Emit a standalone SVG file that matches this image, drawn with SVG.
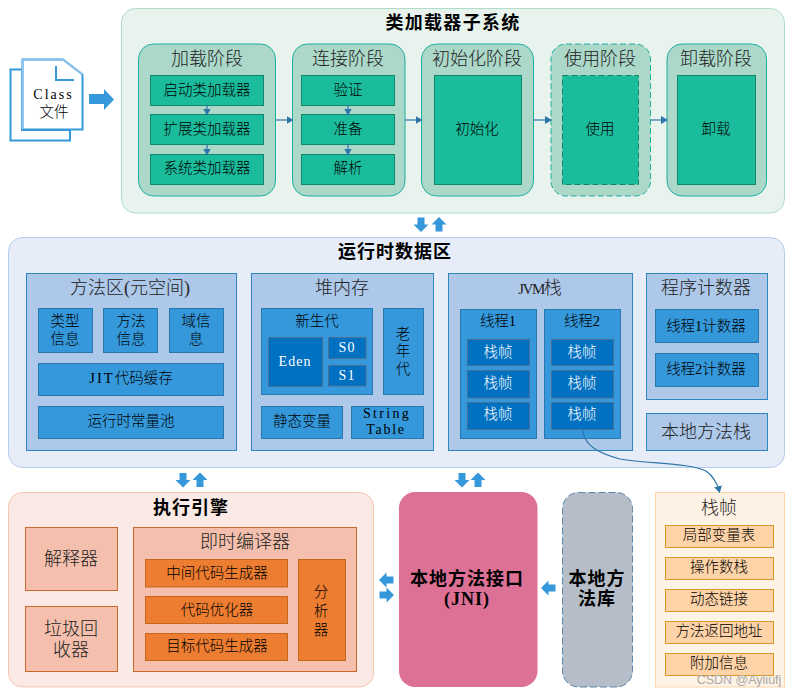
<svg xmlns="http://www.w3.org/2000/svg" width="793" height="696" viewBox="0 0 793 696">
<style>
text{font-family:"Liberation Serif","Noto Sans CJK SC",serif;text-anchor:middle;fill:#000;font-size:14.5px;font-weight:300}
.t{font-size:18px;fill:#222}
.h{font-size:18px;font-weight:700;letter-spacing:1px}
.w{fill:#fff}
.l{font-size:14px}
.gp{fill:#acd8c9;stroke:#1cb0a0;stroke-width:1}
.gi{fill:#1abc9c;stroke:#14846f;stroke-width:1}
.bp{fill:#adc8e9;stroke:#2e86c1;stroke-width:1}
.bi{fill:#3498db;stroke:#2a78ad;stroke-width:1}
.bd{fill:#0070c0;stroke:#4a6f96;stroke-width:1}
.op{fill:#f4bfac;stroke:#c8682c;stroke-width:1}
.oi{fill:#ed7d31;stroke:#c5671f;stroke-width:1}
.yi{fill:#fdd3a7;stroke:#d79b25;stroke-width:1}
.c{fill:none;stroke:#2e75a8;stroke-width:1.2}
.fa{fill:#3498db}
</style>
<defs>
<marker id="a" markerWidth="7" markerHeight="8" refX="6" refY="4" orient="auto" markerUnits="userSpaceOnUse"><path d="M0 0L7 4L0 8z" fill="#2e75a8"/></marker>
<path id="dn" d="M-3.5 -7H3.500V0H7.500L0 7.500L-7.500 0H-3.500z"/>
</defs>
<g id="class-file">
<path d="M10.500 69.500H22V130H70V140.500H10.500z" fill="#fff" stroke="#3498db" stroke-width="2"/>
<path d="M22.500 59.500H63L82.500 74.500V129.500H22.500z" fill="#fff" stroke="#3498db" stroke-width="2"/>
<path d="M22.500 129.500V59.500H63L82.500 74.500" fill="none" stroke="#8cc4ee" stroke-width="2"/>
<path d="M56 66V80H74" fill="none" stroke="#3498db" stroke-width="2"/>
<text class="l" x="53.500" y="99" style="letter-spacing:2px">Class</text>
<text x="54" y="117">文件</text>
</g>
<g id="class-arrow"><path class="fa" d="M89 94H104V89L114 99.500L104 110V104H89z"/></g>
<g id="class-loader">
<rect x="121.500" y="8.500" width="663" height="204.500" rx="14" fill="#e8f3ee" stroke="#b0dcc9"/>
<text class="h" x="453" y="29" style="letter-spacing:1.300px">类加载器子系统</text>
</g>
<g id="load">
<rect class="gp" x="138.500" y="44" width="137" height="152" rx="15"/>
<text class="t" x="207" y="65">加载阶段</text>
<rect class="gi" x="150.500" y="75.500" width="113" height="30"/><text x="207" y="95">启动类加载器</text>
<rect class="gi" x="150.500" y="114.500" width="113" height="30"/><text x="207" y="134">扩展类加载器</text>
<rect class="gi" x="150.500" y="154.500" width="113" height="30"/><text x="207" y="173">系统类加载器</text>
</g>
<g id="link">
<rect class="gp" x="292.500" y="44" width="112.500" height="152" rx="15"/>
<text class="t" x="348" y="65">连接阶段</text>
<rect class="gi" x="301.500" y="75.500" width="93" height="30"/><text x="348" y="95">验证</text>
<rect class="gi" x="301.500" y="114.500" width="93" height="30"/><text x="348" y="134">准备</text>
<rect class="gi" x="301.500" y="154.500" width="93" height="30"/><text x="348" y="173">解析</text>
</g>
<g id="init">
<rect class="gp" x="421.500" y="44" width="112" height="152" rx="15"/>
<text class="t" x="477" y="65">初始化阶段</text>
<rect class="gi" x="434.500" y="75.500" width="87" height="109"/><text x="477" y="134">初始化</text>
</g>
<g id="use">
<rect class="gp" x="551" y="44" width="99.500" height="152" rx="15" stroke-dasharray="6 3"/>
<text class="t" x="600" y="65">使用阶段</text>
<rect class="gi" x="562.500" y="75.500" width="76" height="109" stroke-dasharray="6 3"/><text x="600" y="134">使用</text>
</g>
<g id="unload">
<rect class="gp" x="667" y="44" width="99.500" height="152" rx="15"/>
<text class="t" x="716" y="65">卸载阶段</text>
<rect class="gi" x="677.500" y="75.500" width="78" height="109"/><text x="716" y="134">卸载</text>
</g>
<g id="runtime">
<rect x="8.500" y="237.500" width="776" height="230" rx="14" fill="#e6edf8" stroke="#b4cdea"/>
<text class="h" x="395" y="258">运行时数据区</text>
</g>
<g id="method-area">
<rect class="bp" x="26.500" y="273.500" width="210" height="177"/>
<text class="t" x="130" y="294">方法区(元空间)</text>
<rect class="bi" x="38.500" y="308.500" width="54" height="44"/><text x="65" y="326">类型</text><text x="65" y="344">信息</text>
<rect class="bi" x="103.500" y="308.500" width="54" height="44"/><text x="131" y="326">方法</text><text x="131" y="344">信息</text>
<rect class="bi" x="169.500" y="308.500" width="54" height="44"/><text x="196" y="326">域信</text><text x="196" y="344">息</text>
<rect class="bi" x="38.500" y="363.500" width="185" height="32"/><text x="131" y="383"><tspan style="letter-spacing:2px">JIT</tspan>代码缓存</text>
<rect class="bi" x="38.500" y="406.500" width="185" height="32"/><text x="131" y="426">运行时常量池</text>
</g>
<g id="heap">
<rect class="bp" x="251.500" y="273.500" width="182" height="177"/>
<text class="t" x="342" y="294">堆内存</text>
<rect class="bi" x="261.500" y="308.500" width="111" height="86"/><text x="317" y="326">新生代</text>
<rect class="bd" x="268.500" y="337.500" width="54" height="49"/><text class="w l" x="295" y="366" style="letter-spacing:1px">Eden</text>
<rect class="bd" x="328.500" y="337.500" width="37.500" height="21"/><text class="w l" x="347" y="352" style="letter-spacing:1px">S0</text>
<rect class="bd" x="328.500" y="365.500" width="37.500" height="20.500"/><text class="w l" x="347" y="380" style="letter-spacing:1px">S1</text>
<rect class="bi" x="383.500" y="308.500" width="40" height="86"/><text x="403" y="339">老</text><text x="403" y="356">年</text><text x="403" y="374">代</text>
<rect class="bi" x="261.500" y="406.500" width="81" height="32"/><text x="302" y="426">静态变量</text>
<rect class="bi" x="351.500" y="406.500" width="72" height="32"/><text class="l" x="387" y="418" style="letter-spacing:2.300px">String</text><text class="l" x="386" y="434" style="letter-spacing:1.700px">Table</text>
</g>
<g id="jvm-stack">
<rect class="bp" x="448.500" y="273.500" width="184" height="177"/>
<text class="t" x="540" y="294"><tspan style="font-size:15px;letter-spacing:-1.500px">JVM</tspan>栈</text>
</g>
<g id="thread1">
<rect class="bi" x="460.500" y="309.500" width="76" height="129"/><text x="498" y="326">线程1</text>
<rect class="bd" x="467.500" y="339.500" width="62" height="26"/><text class="w" x="498" y="357">栈帧</text>
<rect class="bd" x="467.500" y="370.500" width="62" height="27.500"/><text class="w" x="498" y="388">栈帧</text>
<rect class="bd" x="467.500" y="402.500" width="62" height="27"/><text class="w" x="498" y="419">栈帧</text>
</g>
<g id="thread2">
<rect class="bi" x="544.500" y="309.500" width="76" height="129"/><text x="582" y="326">线程2</text>
<rect class="bd" x="551.500" y="339.500" width="62" height="26"/><text class="w" x="582" y="357">栈帧</text>
<rect class="bd" x="551.500" y="370.500" width="62" height="27.500"/><text class="w" x="582" y="388">栈帧</text>
<rect class="bd" x="551.500" y="402.500" width="62" height="27"/><text class="w" x="582" y="419">栈帧</text>
</g>
<g id="pc">
<rect class="bp" x="646.500" y="273.500" width="121" height="126"/>
<text class="t" x="706" y="294">程序计数器</text>
<rect class="bi" x="655.500" y="309.500" width="103" height="33"/><text x="706" y="331">线程1计数器</text>
<rect class="bi" x="655.500" y="353.500" width="103" height="33"/><text x="706" y="374">线程2计数器</text>
</g>
<g id="native-stack">
<rect class="bp" x="646.500" y="413.500" width="121" height="37"/>
<text class="t" x="706" y="438">本地方法栈</text>
</g>
<g id="exec">
<rect x="8.500" y="492.500" width="365" height="194.500" rx="14" fill="#fbe9e5" stroke="#f5c5b0"/>
<text class="h" x="191" y="514">执行引擎</text>
<rect class="op" x="25.500" y="527.500" width="92" height="63"/><text class="t" x="71" y="565">解释器</text>
<rect class="op" x="25.500" y="606.500" width="92" height="65"/><text class="t" x="71" y="635">垃圾回</text><text class="t" x="71" y="656">收器</text>
</g>
<g id="jit">
<rect class="op" x="133.500" y="527.500" width="223" height="144"/>
<text class="t" x="245" y="548">即时编译器</text>
<rect class="oi" x="145.500" y="559.500" width="142" height="27.500"/><text x="217" y="578">中间代码生成器</text>
<rect class="oi" x="145.500" y="596.500" width="142" height="27"/><text x="217" y="615">代码优化器</text>
<rect class="oi" x="145.500" y="633.500" width="142" height="27"/><text x="217" y="651">目标代码生成器</text>
<rect class="oi" x="298.500" y="559.500" width="47" height="101"/><text x="321" y="597">分</text><text x="321" y="616">析</text><text x="321" y="635">器</text>
</g>
<g id="jni">
<rect x="399" y="492" width="138.500" height="195" rx="16" fill="#dd7095"/>
<text class="h" x="467" y="585">本地方法接口</text>
<text class="h" x="467" y="605" style="letter-spacing:1px">(JNI)</text>
</g>
<g id="native-lib">
<rect x="562.500" y="492.500" width="70" height="194.500" rx="16" fill="#b5bdc9" stroke="#5c86ab" stroke-dasharray="7 3"/>
<text class="h" x="597" y="585">本地方</text>
<text class="h" x="597" y="605">法库</text>
</g>
<g id="frame">
<rect x="655.500" y="492.500" width="129" height="194.500" fill="#fef2e5" stroke="#fcd5ab"/>
<text class="t" x="719" y="514">栈帧</text>
<rect class="yi" x="665.500" y="525.500" width="108" height="22"/><text x="719" y="540">局部变量表</text>
<rect class="yi" x="665.500" y="557.500" width="108" height="22"/><text x="719" y="572">操作数栈</text>
<rect class="yi" x="665.500" y="589.500" width="108" height="22"/><text x="719" y="604">动态链接</text>
<rect class="yi" x="665.500" y="621.500" width="108" height="22"/><text x="719" y="636">方法返回地址</text>
<rect class="yi" x="665.500" y="653.500" width="108" height="22"/><text x="719" y="668">附加信息</text>
</g>
<g id="connectors">
<path class="c" marker-end="url(#a)" d="M207 105.500V114.500"/>
<path class="c" marker-end="url(#a)" d="M207 144.500V154.500"/>
<path class="c" marker-end="url(#a)" d="M348 105.500V114.500"/>
<path class="c" marker-end="url(#a)" d="M348 144.500V154.500"/>
<path class="c" marker-end="url(#a)" d="M275.500 120H292.500"/>
<path class="c" marker-end="url(#a)" d="M405 120H421.500"/>
<path class="c" marker-end="url(#a)" d="M533.500 120H551"/>
<path class="c" marker-end="url(#a)" d="M650.500 120H667"/>
<path class="c" marker-end="url(#a)" d="M582.700 429.500C584 445 597 453 620 459C650 464 690 463 706 471C713 476 717 482 719.500 492"/>
<g class="fa">
<use href="#dn" x="421" y="224.500"/>
<use href="#dn" transform="translate(439 224.500) rotate(180)"/>
<use href="#dn" x="183" y="480"/>
<use href="#dn" transform="translate(200 480) rotate(180)"/>
<use href="#dn" x="462" y="480"/>
<use href="#dn" transform="translate(478 480) rotate(180)"/>
<use href="#dn" transform="translate(386.500 580) rotate(90)"/>
<use href="#dn" transform="translate(386.500 595) rotate(-90)"/>
<use href="#dn" transform="translate(548.500 588) rotate(90)"/>
</g>
</g>
<text x="739" y="684" style="font-family:'Liberation Sans',sans-serif;font-size:12.500px;fill:#a8a8a8;font-weight:400">CSDN @Ayliufj</text>
</svg>
